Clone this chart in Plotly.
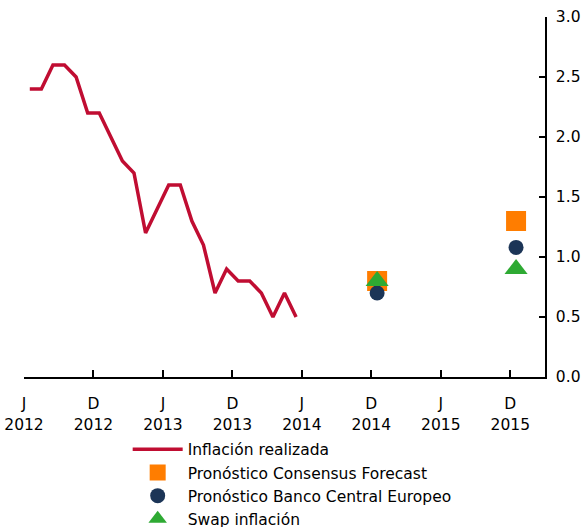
import plotly.graph_objects as go

# Realized inflation, monthly Jan 2012 .. Dec 2013 (category index 0..23)
line_x = list(range(24))
line_y = [2.4, 2.4, 2.6, 2.6, 2.5, 2.2, 2.2, 2.0, 1.8, 1.7, 1.2, 1.4,
          1.6, 1.6, 1.3, 1.1, 0.7, 0.9, 0.8, 0.8, 0.7, 0.5, 0.7, 0.5]

# Forecast points at D 2014 and D 2015 (category index)
fc_x = [30, 42]
consensus = [0.8, 1.3]
bce = [0.7, 1.08]
swap = [0.8, 0.9]

# tick marks between categories, every 6 categories
tick_pos = [-0.5, 5.5, 11.5, 17.5, 23.5, 29.5, 35.5, 41.5]
tick_month = ["J", "D", "J", "D", "J", "D", "J", "D"]
tick_year = ["2012", "2012", "2013", "2013", "2014", "2014", "2015", "2015"]
y_ticks = [0, 0.5, 1, 1.5, 2, 2.5, 3]
y_labels = ["0.0", "0.5", "1.0", "1.5", "2.0", "2.5", "3.0"]

FONT = "DejaVu Sans"
FS = 15.5

fig = go.Figure()
fig.add_trace(go.Scatter(x=line_x, y=line_y, mode="lines", name="Inflación realizada",
                         xaxis="x2", line=dict(color="#C00D32", width=3.5)))
fig.add_trace(go.Scatter(x=fc_x, y=consensus, mode="markers", name="Pronóstico Consensus Forecast",
                         marker=dict(symbol="square", size=20, color="#FF7D00")))
fig.add_trace(go.Scatter(x=fc_x, y=bce, mode="markers", name="Pronóstico Banco Central Europeo",
                         marker=dict(symbol="circle", size=15, color="#1C3557")))
fig.add_trace(go.Scatter(x=fc_x, y=swap, mode="markers", name="Swap inflación",
                         marker=dict(symbol="triangle-up", size=20, color="#2EAA33")))

fig.update_layout(
    width=588, height=527,
    margin=dict(l=24, r=43, t=17, b=150, autoexpand=False),
    paper_bgcolor="white", plot_bgcolor="white",
    font=dict(family=FONT, size=FS, color="black"),
    showlegend=True,
    legend=dict(x=0.199, xanchor="left", y=-0.155, yanchor="top",
                font=dict(family=FONT, size=FS, color="black"),
                bgcolor="rgba(0,0,0,0)", tracegroupgap=0, itemwidth=50),
    xaxis=dict(range=[-0.5, 44.5], showgrid=False, zeroline=False,
               showline=True, linecolor="black", linewidth=1.5,
               tickmode="array", tickvals=tick_pos, ticktext=tick_month,
               ticks="inside", ticklen=7, tickwidth=1.5, tickcolor="black",
               ticklabelstandoff=12,
               tickfont=dict(family=FONT, size=FS), automargin=False),
    xaxis2=dict(range=[-0.5, 44.5], overlaying="x", side="bottom", anchor="y",
                showgrid=False, zeroline=False, showline=False,
                tickmode="array", tickvals=tick_pos, ticktext=tick_year,
                ticks="", ticklabelstandoff=36,
                tickfont=dict(family=FONT, size=FS), automargin=False),
    yaxis=dict(range=[0, 3], side="right", showgrid=False, zeroline=False,
               showline=True, linecolor="black", linewidth=1.5,
               tickmode="array", tickvals=y_ticks, ticktext=y_labels,
               ticks="inside", ticklen=6, tickwidth=1.5, tickcolor="black",
               ticklabelstandoff=6,
               tickfont=dict(family=FONT, size=FS), automargin=False),
)

fig.write_html("out.html", config={"displayModeBar": False},
               post_script="document.body.style.margin='0';document.body.style.padding='0';")
